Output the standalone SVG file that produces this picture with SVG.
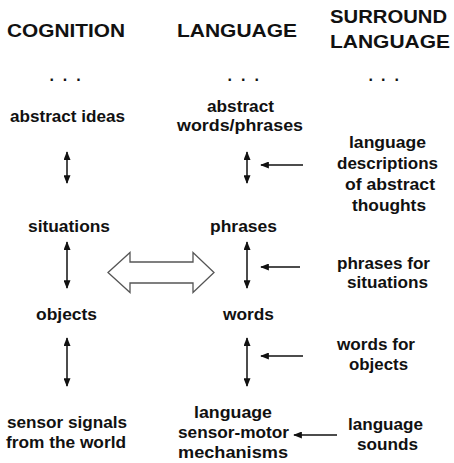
<svg xmlns="http://www.w3.org/2000/svg" width="454" height="463" viewBox="0 0 454 463">
<style>
text{font-family:"Liberation Sans",Arial,sans-serif;font-weight:bold;fill:#111;text-anchor:middle}
.h{font-size:18.5px}
.t{font-size:16px}
.d{font-size:16px;text-anchor:start}
.c{stroke:#111;stroke-width:1.5;fill:none}
.v{marker-start:url(#ah);marker-end:url(#ah)}
.l{marker-end:url(#ah)}
.blk{fill:#fff;stroke:#555;stroke-width:1.3}
</style>
<defs>
<marker id="ah" viewBox="0 0 10 8" refX="9" refY="4" markerWidth="9" markerHeight="7" markerUnits="userSpaceOnUse" orient="auto-start-reverse">
<path d="M0,0 L10,4 L0,8 Z" fill="#111"/>
</marker>
</defs>
<rect width="454" height="463" fill="#fff"/>
<g id="headers">
<text class="h" x="66" y="37" textLength="118" lengthAdjust="spacingAndGlyphs">COGNITION</text>
<text class="h" x="237" y="37" textLength="120" lengthAdjust="spacingAndGlyphs">LANGUAGE</text>
<text class="h" x="388.5" y="23" textLength="117" lengthAdjust="spacingAndGlyphs">SURROUND</text>
<text class="h" x="390" y="48" textLength="120" lengthAdjust="spacingAndGlyphs">LANGUAGE</text>
</g>
<g id="dots">
<text class="d" x="49.5 62.8 76.2" y="80.5">...</text>
<text class="d" x="227.5 241 254.5" y="80.5">...</text>
<text class="d" x="368.5 381 394.5" y="80.5">...</text>
</g>
<g id="abstract-ideas"><text class="t" x="67.5" y="122" textLength="115" lengthAdjust="spacingAndGlyphs">abstract ideas</text></g>
<g id="situations"><text class="t" x="69" y="232" textLength="82" lengthAdjust="spacingAndGlyphs">situations</text></g>
<g id="objects"><text class="t" x="66.5" y="320" textLength="61" lengthAdjust="spacingAndGlyphs">objects</text></g>
<g id="sensor-signals"><text class="t" x="67" y="428" textLength="120" lengthAdjust="spacingAndGlyphs">sensor signals</text><text class="t" x="66" y="448" textLength="120" lengthAdjust="spacingAndGlyphs">from the world</text></g>
<g id="abstract-words"><text class="t" x="240.5" y="112" textLength="67" lengthAdjust="spacingAndGlyphs">abstract</text><text class="t" x="240" y="131" textLength="126" lengthAdjust="spacingAndGlyphs">words/phrases</text></g>
<g id="phrases"><text class="t" x="243.5" y="232" textLength="67" lengthAdjust="spacingAndGlyphs">phrases</text></g>
<g id="words"><text class="t" x="248.5" y="320" textLength="51" lengthAdjust="spacingAndGlyphs">words</text></g>
<g id="language-sm"><text class="t" x="233" y="418" textLength="78" lengthAdjust="spacingAndGlyphs">language</text><text class="t" x="233.5" y="438" textLength="111" lengthAdjust="spacingAndGlyphs">sensor-motor</text><text class="t" x="233" y="458" textLength="110" lengthAdjust="spacingAndGlyphs">mechanisms</text></g>
<g id="desc-abstract"><text class="t" x="387.5" y="148" textLength="77" lengthAdjust="spacingAndGlyphs">language</text><text class="t" x="387.5" y="169" textLength="101" lengthAdjust="spacingAndGlyphs">descriptions</text><text class="t" x="390" y="190" textLength="90" lengthAdjust="spacingAndGlyphs">of abstract</text><text class="t" x="389" y="211" textLength="74" lengthAdjust="spacingAndGlyphs">thoughts</text></g>
<g id="phrases-for"><text class="t" x="383.5" y="269" textLength="93" lengthAdjust="spacingAndGlyphs">phrases for</text><text class="t" x="387.5" y="288" textLength="81" lengthAdjust="spacingAndGlyphs">situations</text></g>
<g id="words-for"><text class="t" x="376" y="350" textLength="78" lengthAdjust="spacingAndGlyphs">words for</text><text class="t" x="378.5" y="370" textLength="59" lengthAdjust="spacingAndGlyphs">objects</text></g>
<g id="language-sounds"><text class="t" x="385.5" y="430" textLength="75" lengthAdjust="spacingAndGlyphs">language</text><text class="t" x="387.5" y="450" textLength="61" lengthAdjust="spacingAndGlyphs">sounds</text></g>
<g id="connectors">
<line class="c v" x1="67" y1="152" x2="67" y2="183"/>
<line class="c v" x1="67" y1="242" x2="67" y2="288"/>
<line class="c v" x1="67" y1="338" x2="67" y2="386"/>
<line class="c v" x1="247" y1="152" x2="247" y2="183"/>
<line class="c v" x1="247" y1="242" x2="247" y2="288"/>
<line class="c v" x1="247" y1="338" x2="247" y2="386"/>
<line class="c l" x1="303" y1="165" x2="261" y2="165"/>
<line class="c l" x1="300" y1="267" x2="261" y2="267"/>
<line class="c l" x1="303" y1="356" x2="261" y2="356"/>
<line class="c l" x1="337" y1="435" x2="294" y2="435"/>
<path class="blk" d="M108,272.5 L130,252.5 L130,262 L193,262 L193,252.5 L214,272.5 L193,292.5 L193,283 L130,283 L130,292.5 Z"/>
</g>
</svg>
